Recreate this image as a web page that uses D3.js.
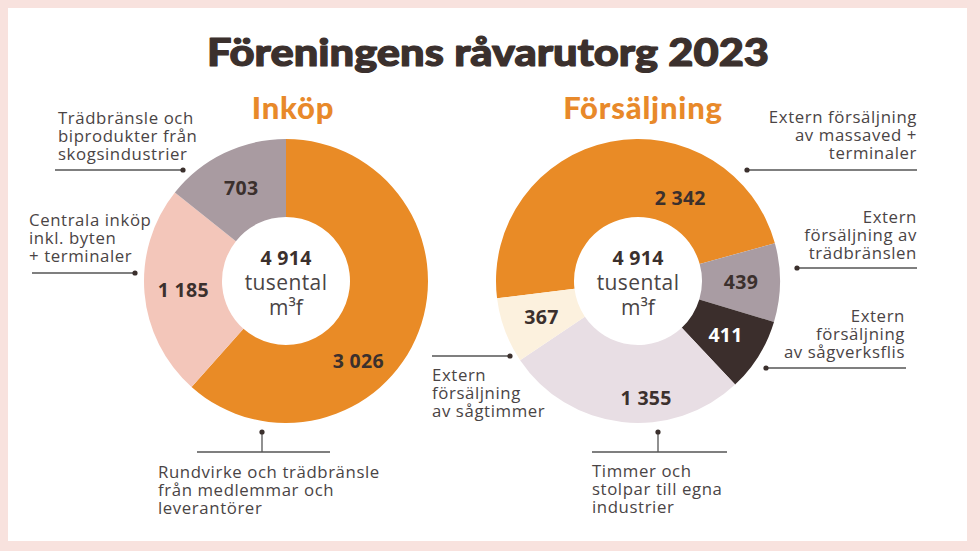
<!DOCTYPE html>
<html><head><meta charset="utf-8">
<script src="https://cdn.jsdelivr.net/npm/d3@7"></script>
<style>
html,body{margin:0;padding:0;background:#fff;}
svg{display:block;}
</style></head>
<body>
<script>
// ---------- DATA ----------
const chartTitle = "Föreningens råvarutorg 2023";
const inkopTitle = "Inköp";
const forsTitle = "Försäljning";
const totalLabel = ["4 914", "tusental", "m³f"];

const inkopCategories = [
  "Rundvirke och trädbränsle från medlemmar och leverantörer",
  "Centrala inköp inkl. byten + terminaler",
  "Trädbränsle och biprodukter från skogsindustrier"
];
const inkopLines = [
  ["Rundvirke och trädbränsle", "från medlemmar och", "leverantörer"],
  ["Centrala inköp", "inkl. byten", "+ terminaler"],
  ["Trädbränsle och", "biprodukter från", "skogsindustrier"]
];
const inkopValues = [3026, 1185, 703];

const forsCategories = [
  "Extern försäljning av massaved + terminaler",
  "Extern försäljning av trädbränslen",
  "Extern försäljning av sågverksflis",
  "Timmer och stolpar till egna industrier",
  "Extern försäljning av sågtimmer"
];
const forsLines = [
  ["Extern försäljning", "av massaved +", "terminaler"],
  ["Extern", "försäljning av", "trädbränslen"],
  ["Extern", "försäljning", "av sågverksflis"],
  ["Timmer och", "stolpar till egna", "industrier"],
  ["Extern", "försäljning", "av sågtimmer"]
];
const forsValues = [2342, 439, 411, 1355, 367];

// ---------- STYLE / LAYOUT ----------
const W = 980, H = 551;
const inkopColors = ["#e98b26", "#f3c6ba", "#a99ba1"];
const forsColors = ["#e98b26", "#a99ca3", "#3b2e2c", "#e8dee4", "#fcf1de"];
const forsLabelColors = ["#3b302d", "#3b302d", "#ffffff", "#3b302d", "#3b302d"];
const TXT = "#4a4445", DARK = "#3b302d", ORANGE = "#e8892a", LINE = "#555";
const labelFont = "'Open Sans', 'Noto Sans', sans-serif";
const R = 142, r0 = 64;
const deg = Math.PI / 180;

const fmt = d3.formatLocale({decimal: ",", thousands: " ", grouping: [3], currency: ["", ""]}).format(",d");

const svg = d3.select("body").append("svg").attr("width", W).attr("height", H);

// frame
svg.append("rect").attr("width", W).attr("height", H).attr("fill", "#f8e2de");
svg.append("rect").attr("x", 8).attr("y", 8).attr("width", 959).attr("height", 533).attr("fill", "#ffffff");

// title
svg.append("text").attr("x", 488).attr("y", 66).attr("text-anchor", "middle")
  .attr("font-family", "Lato, Roboto, sans-serif").attr("font-weight", 900)
  .attr("font-size", 38).attr("fill", DARK)
  .attr("stroke", DARK).attr("stroke-width", 1.2).attr("stroke-linejoin", "round")
  .attr("textLength", 562).attr("lengthAdjust", "spacingAndGlyphs")
  .text(chartTitle);

function donut(cx, cy, values, colors, labelColors, startDeg, overrides, title, titleX) {
  const g = svg.append("g").attr("transform", `translate(${cx},${cy})`);
  const pie = d3.pie().sort(null).value(d => d)
    .startAngle(startDeg * deg).endAngle(startDeg * deg + 2 * Math.PI);
  const arc = d3.arc().innerRadius(r0).outerRadius(R);
  const arcs = pie(values);
  g.selectAll("path.slice").data(arcs).join("path").attr("class", "slice")
    .attr("d", arc).attr("fill", (d, i) => colors[i]);
  g.selectAll("text.val").data(arcs).join("text").attr("class", "val")
    .attr("transform", (d, i) => {
      const o = overrides[i] || {};
      const a = o.angle !== undefined ? o.angle * deg : (d.startAngle + d.endAngle) / 2;
      const rr = o.r !== undefined ? o.r : 103;
      return `translate(${rr * Math.sin(a)},${-rr * Math.cos(a)})`;
    })
    .attr("text-anchor", "middle").attr("dy", "0.35em")
    .attr("font-family", labelFont).attr("font-weight", 700).attr("font-size", 19.5)
    .attr("letter-spacing", 0.3)
    .attr("fill", (d, i) => labelColors[i])
    .text(d => fmt(d.data));
  // center text
  g.append("text").attr("y", -23).attr("dy", "0.35em").attr("text-anchor", "middle")
    .attr("font-family", labelFont).attr("font-weight", 700).attr("font-size", 19.5)
    .attr("letter-spacing", 0.3)
    .attr("fill", DARK).text(totalLabel[0]);
  g.append("text").attr("y", 2).attr("dy", "0.35em").attr("text-anchor", "middle")
    .attr("font-family", labelFont).attr("font-size", 21).attr("letter-spacing", 0.4)
    .attr("fill", TXT).text(totalLabel[1]);
  g.append("text").attr("y", 27).attr("dy", "0.35em").attr("text-anchor", "middle")
    .attr("font-family", labelFont).attr("font-size", 21).attr("fill", TXT).text(totalLabel[2]);
  // subtitle
  svg.append("text").attr("x", titleX).attr("y", 119).attr("text-anchor", "middle")
    .attr("font-family", "Lato, Roboto, sans-serif").attr("font-weight", 900)
    .attr("font-size", 31).attr("letter-spacing", 0.8).attr("fill", ORANGE).text(title);
}

donut(286, 281, inkopValues, inkopColors, ["#3b302d", "#3b302d", "#3b302d"], 0,
  {0: {angle: 138, r: 108}}, inkopTitle, 293);
donut(638, 281, forsValues, forsColors, forsLabelColors, -97,
  {0: {angle: 27, r: 93}, 3: {angle: 176, r: 117}}, forsTitle, 643);

// ---------- annotations ----------
function note(lines, x, y0, anchor) {
  const t = svg.append("text").attr("font-family", labelFont).attr("font-size", 16.8)
    .attr("letter-spacing", 0.6).attr("fill", TXT).attr("text-anchor", anchor);
  lines.forEach((l, i) => t.append("tspan").attr("x", x).attr("y", y0 + i * 18).text(l));
}
function hLeader(x1, x2, y, dotX) {
  svg.append("line").attr("x1", x1).attr("x2", x2).attr("y1", y).attr("y2", y)
    .attr("stroke", LINE).attr("stroke-width", 1.3);
  svg.append("circle").attr("cx", dotX).attr("cy", y).attr("r", 2.6).attr("fill", DARK);
}
function vLeader(x, yTop, yBot, hx1, hx2) {
  svg.append("line").attr("x1", x).attr("x2", x).attr("y1", yTop).attr("y2", yBot)
    .attr("stroke", LINE).attr("stroke-width", 1.3);
  svg.append("line").attr("x1", hx1).attr("x2", hx2).attr("y1", yBot).attr("y2", yBot)
    .attr("stroke", LINE).attr("stroke-width", 1.3);
  svg.append("circle").attr("cx", x).attr("cy", yTop).attr("r", 2.6).attr("fill", DARK);
}

// Inköp
note(inkopLines[2], 58, 124, "start");  hLeader(55, 183, 170, 183);
note(inkopLines[1], 29, 226, "start");  hLeader(32, 135, 273, 135);
note(inkopLines[0], 158, 478, "start"); vLeader(262, 432, 452, 197, 330);

// Försäljning
note(forsLines[0], 917, 123, "end");    hLeader(747, 917, 170, 747);
note(forsLines[1], 917, 223, "end");    hLeader(797, 917, 268, 797);
note(forsLines[2], 905, 322, "end");    hLeader(766, 906, 368, 766);
note(forsLines[4], 432, 381, "start");  hLeader(432, 510, 356, 510);
note(forsLines[3], 592, 477, "start");  vLeader(658, 432, 452, 592, 727);
</script>
</body></html>
